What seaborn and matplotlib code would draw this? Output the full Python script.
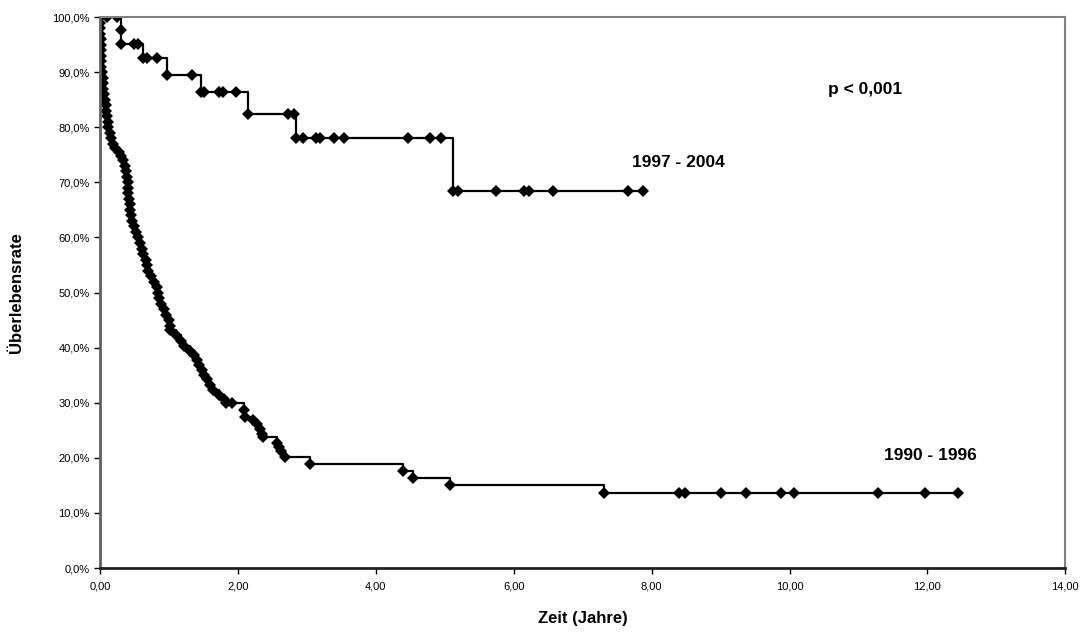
import numpy as np
import pandas as pd
import matplotlib
matplotlib.use("Agg")
import matplotlib.pyplot as plt
from matplotlib.ticker import FuncFormatter, MultipleLocator
import seaborn as sns

# Kaplan-Meier Werte (Zeit in Jahren, Überlebensrate in %)
zeit_1997 = [0.00, 0.10, 0.25, 0.30, 0.30, 0.49, 0.55, 0.62, 0.68, 0.82, 0.97, 1.34,
             1.47, 1.51, 1.72, 1.79, 1.97, 2.15, 2.73, 2.81, 2.84, 2.95, 3.13, 3.19,
             3.40, 3.54, 4.46, 4.78, 4.95, 5.12, 5.19, 5.74, 6.15, 6.22, 6.57, 7.66, 7.87]
rate_1997 = [100.0, 100.0, 100.0, 97.6, 95.2, 95.2, 95.2, 92.6, 92.6, 92.6, 89.5, 89.5,
             86.4, 86.4, 86.4, 86.4, 86.4, 82.4, 82.4, 82.4, 78.1, 78.1, 78.1, 78.1,
             78.1, 78.1, 78.1, 78.1, 78.1, 68.4, 68.4, 68.4, 68.4, 68.4, 68.4, 68.4, 68.4]

zeit_1990 = [0.00, 0.00, 0.00, 0.00, 0.01, 0.01, 0.01, 0.02, 0.02, 0.02, 0.03, 0.04,
             0.04, 0.05, 0.06, 0.07, 0.08, 0.09, 0.10, 0.11, 0.12, 0.14, 0.16, 0.19,
             0.22, 0.27, 0.31, 0.34, 0.36, 0.38, 0.39, 0.40, 0.41, 0.41, 0.42, 0.43,
             0.44, 0.45, 0.47, 0.49, 0.52, 0.55, 0.58, 0.61, 0.63, 0.66, 0.68, 0.70,
             0.74, 0.79, 0.82, 0.84, 0.86, 0.89, 0.93, 0.96, 1.00, 1.01, 1.02, 1.10,
             1.18, 1.22, 1.30, 1.37, 1.41, 1.44, 1.48, 1.51, 1.55, 1.60, 1.64, 1.72,
             1.80, 1.83, 1.92, 2.09, 2.11, 2.22, 2.28, 2.32, 2.35, 2.36, 2.57, 2.60,
             2.63, 2.69, 3.05, 4.39, 4.54, 5.07, 7.31, 8.40, 8.48, 9.01, 9.37, 9.87,
             10.06, 11.29, 11.96, 12.45]
rate_1990 = [100.0, 99.0, 98.0, 97.0, 96.0, 95.0, 94.0, 93.0, 92.0, 91.0, 90.0, 89.0,
             88.0, 87.0, 86.0, 85.0, 84.0, 83.0, 82.0, 81.0, 80.0, 79.0, 78.0, 77.0,
             76.3, 75.6, 74.8, 74.0, 73.0, 72.0, 71.0, 70.0, 69.0, 68.0, 67.0, 66.0,
             65.0, 64.0, 63.0, 62.0, 61.0, 60.0, 59.0, 58.0, 57.0, 56.0, 55.0, 54.0,
             53.0, 52.0, 51.0, 50.0, 49.0, 48.0, 47.0, 46.0, 45.0, 44.0, 43.3, 42.3,
             41.3, 40.3, 39.4, 38.6, 37.7, 36.8, 35.9, 35.1, 34.3, 33.3, 32.3, 31.5,
             30.7, 29.9, 29.9, 28.7, 27.5, 26.8, 26.1, 25.2, 24.4, 23.7, 22.7, 22.0,
             21.2, 20.2, 18.9, 17.6, 16.3, 15.1, 13.7, 13.7, 13.7, 13.7, 13.7, 13.7,
             13.7, 13.7, 13.7, 13.7]

sns.set_style("white")
plt.rcParams['font.family'] = ['Liberation Sans', 'DejaVu Sans']
plt.rcParams['text.color'] = 'black'
plt.rcParams['axes.labelcolor'] = 'black'
plt.rcParams['xtick.color'] = 'black'
plt.rcParams['ytick.color'] = 'black'

fig = plt.figure(figsize=(10.81, 6.34), dpi=100)
ax = fig.add_axes([0.0925, 0.104, 0.893, 0.869])

for zeit, rate in [(zeit_1997, rate_1997), (zeit_1990, rate_1990)]:
    df = pd.DataFrame({'zeit': zeit, 'rate': rate})
    sns.lineplot(data=df, x='zeit', y='rate', ax=ax, estimator=None, sort=False,
                 drawstyle='steps-post', marker='D', markersize=6.5,
                 markeredgewidth=0, color='black', linewidth=1.6, legend=False)

# Achsen
ax.set_xlim(0, 14)
ax.set_ylim(0, 100)
ax.xaxis.set_major_locator(MultipleLocator(2))
ax.yaxis.set_major_locator(MultipleLocator(10))
ax.xaxis.set_major_formatter(FuncFormatter(lambda v, p: ('%.2f' % v).replace('.', ',')))
ax.yaxis.set_major_formatter(FuncFormatter(lambda v, p: ('%.1f%%' % v).replace('.', ',')))
ax.tick_params(axis='both', which='major', direction='out', length=4, width=1,
               labelsize=8, color='black', labelcolor='black', left=True, bottom=True)
ax.tick_params(axis='x', pad=6)

for s in ['top', 'right']:
    ax.spines[s].set_color('#808080')
    ax.spines[s].set_linewidth(1.5)
ax.spines['left'].set_color('#606060')
ax.spines['left'].set_linewidth(2)
ax.spines['bottom'].set_color('#202020')
ax.spines['bottom'].set_linewidth(2)

ax.set_xlabel('Zeit (Jahre)', fontsize=12, fontweight='bold', labelpad=14)
ax.set_ylabel('Überlebensrate', fontsize=12, fontweight='bold', labelpad=20)

# Beschriftungen
ax.text(8.39, 73.7, '1997 - 2004', fontsize=12.5, fontweight='bold', ha='center', va='center')
ax.text(12.05, 20.5, '1990 - 1996', fontsize=12.5, fontweight='bold', ha='center', va='center')
ax.text(11.09, 86.8, 'p < 0,001', fontsize=12.5, fontweight='bold', ha='center', va='center')

plt.savefig('out.png', dpi=100)
